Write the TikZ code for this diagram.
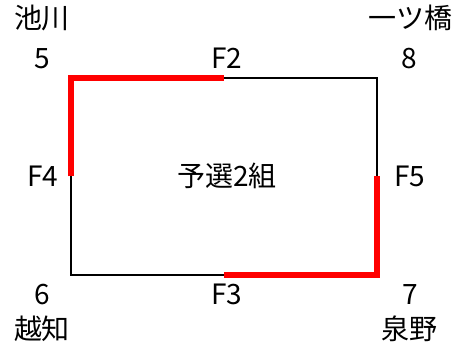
\documentclass[tikz,border=0pt]{standalone}
\usepackage{fontspec}
\setmainfont{Noto Sans CJK JP}
\usetikzlibrary{calc}

\begin{document}
\begin{tikzpicture}[x=1pt, y=1pt,
    every node/.style={font=\fontsize{28}{34}\selectfont, inner sep=0pt, anchor=base},
    edge/.style={line width=1.4pt},
    route/.style={red, line width=6pt, line join=miter}]
    \useasboundingbox (0,0) rectangle (456,351);
    \coordinate (P5) at (71,273);
    \coordinate (P8) at (377,273);
    \coordinate (P7) at (377,76);
    \coordinate (P6) at (71,76);
    \coordinate (M2) at ($(P5)!0.5!(P8)$);
    \coordinate (M3) at ($(P6)!0.5!(P7)$);
    \coordinate (M4) at ($(P5)!0.5!(P6)$);
    \coordinate (M5) at ($(P8)!0.5!(P7)$);
    \draw [edge] (P5) -- (P8) -- (P7) -- (P6) -- cycle;
    \draw [route] (M4) -- (P5) -- (M2);
    \draw [route] (M5) -- (P7) -- (M3);
    \node (n5) at (42.5,282) {5};
    \node (n8) at (409,282) {8};
    \node (n6) at (42.5,46) {6};
    \node (n7) at (410,46) {7};
    \node (f2) at (226.5,282) {F2};
    \node (f3) at (226.5,46) {F3};
    \node (f4) at (43,164) {F4};
    \node (f5) at (410,164) {F5};
    \node (name5) at (42,322) {池川};
    \node (name8) at (410,322) {一ツ橋};
    \node (name6) at (42,11) {越知};
    \node (name7) at (409.5,11) {泉野};
    \node (group) at (227,164) {予選2組};
\end{tikzpicture}
\end{document}
